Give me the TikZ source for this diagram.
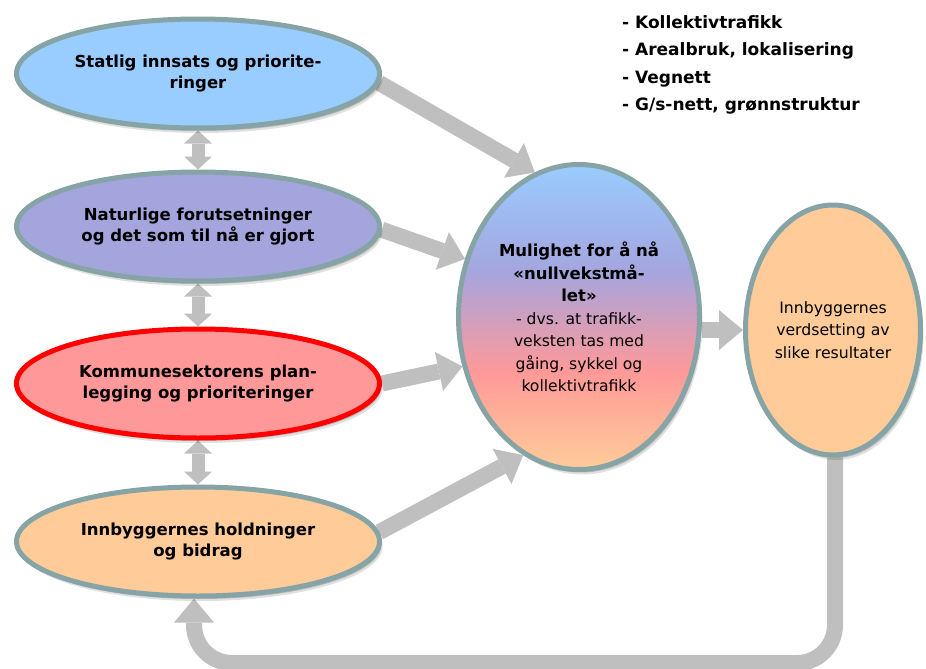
\documentclass[tikz,border=0pt]{standalone}
\usepackage{fontspec}
\setmainfont{DejaVu Sans}
\usetikzlibrary{shapes.geometric,arrows.meta,shadows,backgrounds}

\definecolor{rim}{RGB}{134,164,166}
\definecolor{skyfill}{RGB}{153,204,255}
\definecolor{lavfill}{RGB}{165,165,222}
\definecolor{rosefill}{RGB}{255,153,153}
\definecolor{peachfill}{RGB}{255,204,153}
\definecolor{flow}{RGB}{191,191,191}
\definecolor{alert}{RGB}{255,0,0}

% blue at the top, through lavender and rose, to peach at the bottom
\pgfdeclareverticalshading{goalshade}{100bp}{color(0bp)=(peachfill); color(25bp)=(peachfill); color(41bp)=(rosefill); color(57.5bp)=(lavfill); color(75bp)=(skyfill); color(100bp)=(skyfill)}

\tikzset{
  bubble/.style={ellipse, draw=rim, line width=5pt, inner sep=0pt, align=center, text=black,
    drop shadow={shadow xshift=3pt, shadow yshift=-5pt, opacity=0.12, fill=black},
    drop shadow={shadow xshift=2pt, shadow yshift=-3pt, opacity=0.18, fill=black}},
  sidebubble/.style={bubble, minimum width=363pt, minimum height=109pt,
    font=\bfseries\fontsize{16.5}{21.5}\selectfont},
  flowarrow/.style={draw=flow, line width=16pt,
    -{Triangle[length=24pt,width=40pt,line width=0pt]}},
  linkarrow/.style={draw=flow, line width=13pt,
    {Triangle[length=13pt,width=28pt,line width=0pt]}-{Triangle[length=13pt,width=28pt,line width=0pt]}},
}

\begin{document}
\begin{tikzpicture}[x=1pt,y=-1pt]
\useasboundingbox (0,0) rectangle (926,669);

% factors feeding the goal
\node[sidebubble, fill=skyfill] (e1) at (198,73.5) {Statlig innsats og priorite-\\ringer};
\node[sidebubble, fill=lavfill] (e2) at (198,226.5) {Naturlige forutsetninger\\og det som til nå er gjort};
\node[sidebubble, fill=rosefill, draw=alert] (e3) at (198,383.5) {Kommunesektorens plan-\\legging og prioriteringer};
\node[sidebubble, fill=peachfill] (e4) at (198,541.5) {Innbyggernes holdninger\\og bidrag};

% the goal
\node[bubble, shade, shading=goalshade, minimum width=241pt, minimum height=305pt,
  font=\fontsize{15.6}{22.5}\selectfont] (c) at (579,317)
  {{\fontsize{16.5}{22.5}\selectfont\bfseries Mulighet for å nå}\\{\fontsize{16.5}{22.5}\selectfont\bfseries «nullvekstmå-}\\{\fontsize{16.5}{22.5}\selectfont\bfseries let»}\\- dvs. at trafikk-\\veksten tas med\\gåing, sykkel og\\kollektivtrafikk};

% the residents' valuation
\node[bubble, fill=peachfill, minimum width=175pt, minimum height=250pt,
  font=\fontsize{15.7}{22.5}\selectfont] (r) at (833,330)
  {Innbyggernes\\verdsetting av\\slike resultater};

% measures
\node[anchor=north west, align=left, inner sep=0pt,
  font=\bfseries\fontsize{17}{27.3}\selectfont] (list) at (622,15.5)
  {- Kollektivtrafikk\\- Arealbruk, lokalisering\\- Vegnett\\- G/s-nett, grønnstruktur};

\coordinate (low) at (0,663);

\begin{pgfonlayer}{background}
  \draw[linkarrow] (e1.south) -- (e2.north);
  \draw[linkarrow] (e2.south) -- (e3.north);
  \draw[linkarrow] (e3.south) -- (e4.north);

  \draw[flowarrow] (e1.-3.6) -- (c.107.4);
  \draw[flowarrow] (e2.-1.4) -- (c.153.8);
  \draw[flowarrow] (e3.-0.8) -- (c.-157.2);
  \draw[flowarrow] (e4.3.6) -- (c.-112.9);
  \draw[flowarrow] (r.west -| c.east) -- (r.west);

  \draw[flowarrow, rounded corners=38pt] ([xshift=2pt]r.south) -- ([xshift=2pt]r.south |- low)
    -- ([xshift=-4pt]e4.south |- low) -- ([xshift=-4pt]e4.south);
\end{pgfonlayer}
\end{tikzpicture}
\end{document}
